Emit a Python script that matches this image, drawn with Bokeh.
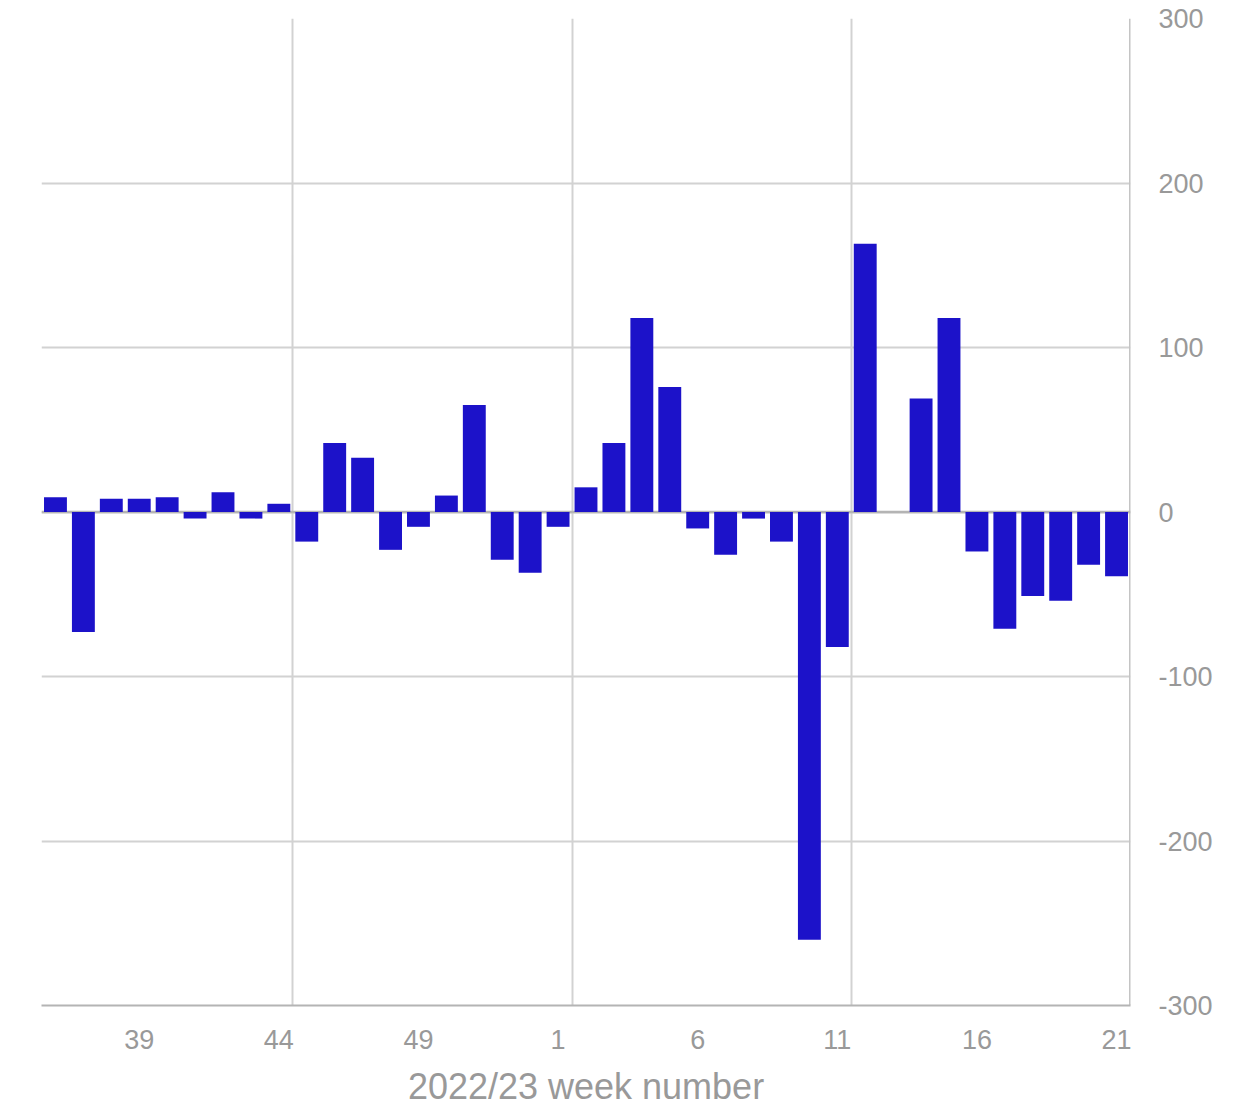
from bokeh.plotting import figure
from bokeh.models import FixedTicker, Span
from bokeh.embed import file_html
from bokeh.resources import INLINE

weeks = [36, 37, 38, 39, 40, 41, 42, 43, 44, 45, 46, 47, 48, 49, 50, 51, 52, 53,
         1, 2, 3, 4, 5, 6, 7, 8, 9, 10, 11, 12, 13, 14, 15, 16, 17, 18, 19, 20, 21]
values = [9, -73, 8, 8, 9, -4, 12, -4, 5, -18, 42, 33, -23, -9, 10, 65, -29, -37,
          -9, 15, 42, 118, 76, -10, -26, -4, -18, -260, -82, 163, 0, 69, 118,
          -24, -71, -51, -54, -32, -39]
tick_labels = ["39", "44", "49", "1", "6", "11", "16", "21"]
y_ticks = [-300, -200, -100, 0, 100, 200, 300]

idx = list(range(len(weeks)))
label_idx = []
seen = set()
for i, w in enumerate(weeks):
    s = str(w)
    if s in tick_labels and s not in seen:
        label_idx.append(i)
        seen.add(s)

p = figure(output_backend="svg", toolbar_location=None,
           frame_width=1089, frame_height=987,
           x_range=(-0.5, len(weeks) - 0.5), y_range=(-300, 300),
           y_axis_location="right",
           min_border_left=41, min_border_top=18, min_border_right=90,
           min_border_bottom=90)
p.outline_line_color = None
p.background_fill_color = "white"
p.border_fill_color = "white"

grid_color = "#d2d2d2"
p.xgrid.ticker = FixedTicker(ticks=[8.5, 18.5, 28.5])
p.xgrid.grid_line_color = grid_color
p.xgrid.grid_line_width = 2
p.ygrid.ticker = FixedTicker(ticks=y_ticks)
p.ygrid.grid_line_color = grid_color
p.ygrid.grid_line_width = 2

right_edge = Span(location=len(weeks) - 0.5, dimension="height",
                  line_color="#c4c4c4", line_width=3, level="underlay")
p.add_layout(right_edge)

zero = Span(location=0, dimension="width", line_color="#b4b4b4", line_width=2.5,
            level="underlay")
p.add_layout(zero)

p.vbar(x=idx, top=values, bottom=0, width=0.82, fill_color="#1c12c9",
       line_color=None)

label_color = "#999999"
font = "Liberation Sans"

xa = p.xaxis[0]
xa.ticker = FixedTicker(ticks=label_idx)
xa.major_label_overrides = {i: str(weeks[i]) for i in label_idx}
xa.axis_line_color = "#b4b4b4"
xa.axis_line_width = 2
xa.major_tick_line_color = None
xa.minor_tick_line_color = None
xa.major_label_text_font = font
xa.major_label_text_font_size = "27px"
xa.major_label_text_color = label_color
xa.major_label_standoff = 18
xa.axis_label = "2022/23 week number"
xa.axis_label_text_font = font
xa.axis_label_text_font_size = "36px"
xa.axis_label_text_font_style = "normal"
xa.axis_label_text_color = label_color
xa.axis_label_standoff = 14

ya = p.yaxis[0]
ya.ticker = FixedTicker(ticks=y_ticks)
ya.major_label_overrides = {t: str(t) for t in y_ticks}
ya.axis_line_color = None
ya.major_tick_line_color = None
ya.minor_tick_line_color = None
ya.major_label_text_font = font
ya.major_label_text_font_size = "27px"
ya.major_label_text_color = label_color
ya.major_label_standoff = 22

open("out.html", "w").write(file_html(p, INLINE))
